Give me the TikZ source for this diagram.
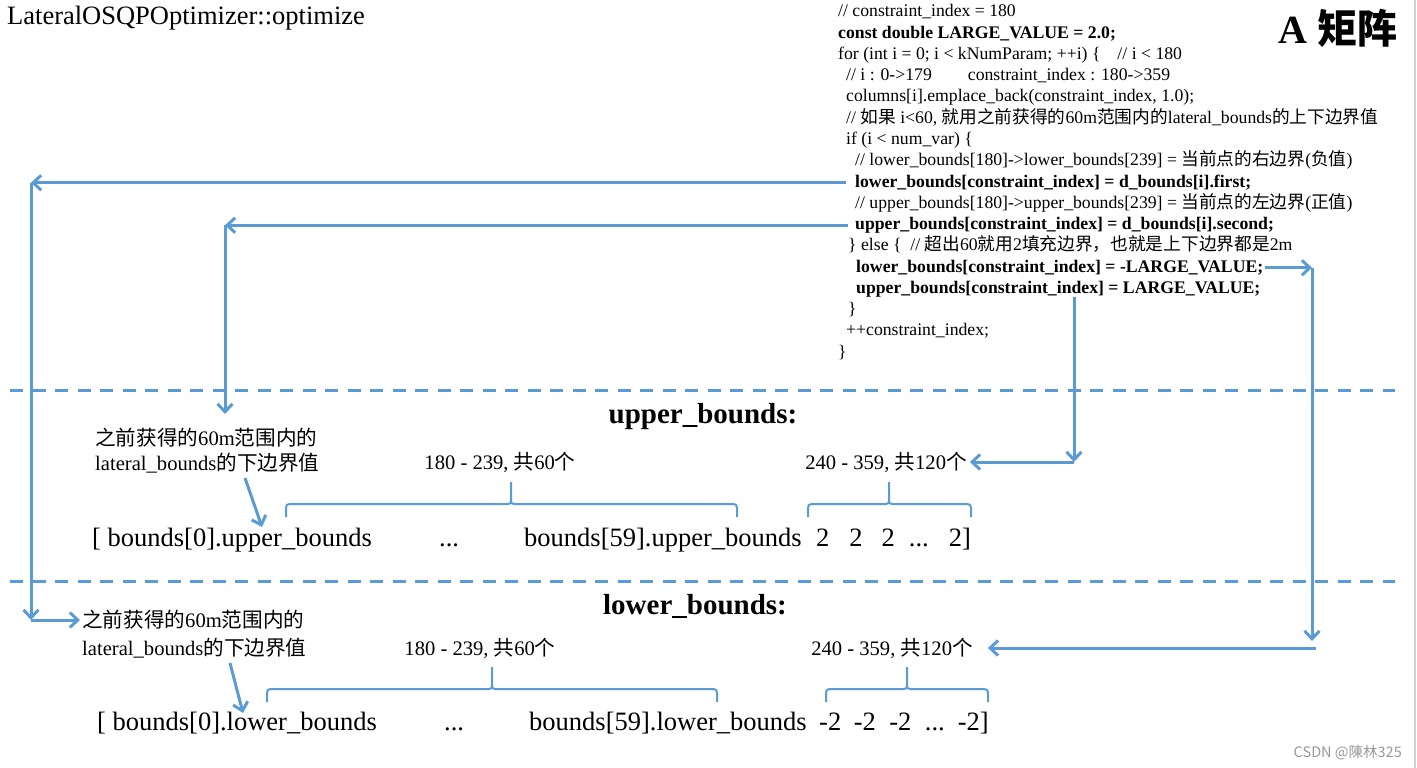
\documentclass[tikz,border=0pt]{standalone}
\usepackage{fontspec}
\setmainfont{Liberation Serif}
\newfontfamily\zhfont{Noto Sans CJK SC}
\newcommand{\zh}[1]{{\zhfont #1}}
\usepackage{tikz}
\usetikzlibrary{positioning, arrows.meta}
\definecolor{lineblue}{HTML}{5B9BD5}

\tikzset{
  code/.style={anchor=base west, inner sep=0pt, text height=12.5pt, text depth=4pt,
    font=\fontsize{17.7}{21}\selectfont},
  codeb/.style={code, font=\fontsize{17.7}{21}\selectfont\bfseries},
  note/.style={anchor=base west, inner sep=2pt, text height=14pt, text depth=0pt,
    font=\fontsize{20.6}{24}\selectfont},
  rng/.style={anchor=base, inner sep=3pt, text height=14pt, text depth=0pt,
    font=\fontsize{20.6}{24}\selectfont},
  row/.style={anchor=base west, inner sep=0pt, font=\fontsize{26.5}{30}\selectfont},
  head/.style={anchor=base, inner sep=0pt, font=\fontsize{29}{33}\selectfont\bfseries},
  arr/.style={draw=lineblue, line width=3pt, -{Straight Barb[length=8pt,width=15pt]}},
  brc/.style={draw=lineblue, line width=2pt},
  sep/.style={draw=lineblue, line width=3pt, dash pattern=on 13pt off 9.5pt},
}

% range brace: left x, right x, tip x, foot y
\newcommand{\rangebrace}[4]{%
  \draw[brc] (#1,#4) -- (#1,#4-9) .. controls (#1,#4-12) and (#1+1,#4-13) .. (#1+4,#4-13)
    -- (#3-3,#4-13) .. controls (#3-1,#4-13) and (#3,#4-14) .. (#3,#4-16) -- (#3,#4-35);
  \draw[brc] (#2,#4) -- (#2,#4-9) .. controls (#2,#4-12) and (#2-1,#4-13) .. (#2-4,#4-13)
    -- (#3+3,#4-13) .. controls (#3+1,#4-13) and (#3,#4-14) .. (#3,#4-16);
}

\begin{document}
\begin{tikzpicture}[x=1pt, y=-1pt]
\useasboundingbox (0,0) rectangle (1417,768);
\draw[black!18, line width=1.2pt] (1415,0) -- (1415,768);

% title and code
\node[row, font=\fontsize{26.5}{30}\selectfont] (ttl) at (7,25) {LateralOSQPOptimizer::optimize};
\node[anchor=base west, inner sep=0pt, font=\fontsize{40}{44}\selectfont\bfseries] (amat) at (1278,44) {A \zh{矩阵}};

\node[code]  (c1)  at (838,17)     {// constraint\_index = 180};
\node[codeb] (c2)  at (838,38.25)  {const double LARGE\_VALUE = 2.0;};
\node[code]  (c3)  at (838,59.5)   {for (int i = 0; i < kNumParam; ++i) \{\hspace{17pt}// i < 180};
\node[code]  (c4)  at (846,80.75)  {// i : 0->179\hspace{36pt}constraint\_index : 180->359};
\node[code]  (c5)  at (846,102)    {columns[i].emplace\_back(constraint\_index, 1.0);};
\node[code]  (c6)  at (846,123.25) {// \zh{如果} i<60, \zh{就用之前获得的}60m\zh{范围内的}lateral\_bounds\zh{的上下边界值}};
\node[code]  (c7)  at (846,144.5)  {if (i < num\_var) \{};
\node[code]  (c8)  at (855,165.75) {// lower\_bounds[180]->lower\_bounds[239] = \zh{当前点的右边界}(\zh{负值})};
\node[codeb] (c9)  at (855,187)    {lower\_bounds[constraint\_index] = d\_bounds[i].first;};
\node[code]  (c10) at (855,208.25) {// upper\_bounds[180]->upper\_bounds[239] = \zh{当前点的左边界}(\zh{正值})};
\node[codeb] (c11) at (855,229.5)  {upper\_bounds[constraint\_index] = d\_bounds[i].second;};
\node[code]  (c12) at (848,250.75) {\} else \{\ \ // \zh{超出}60\zh{就用}2\zh{填充边界，也就是上下边界都是}2m};
\node[codeb] (c13) at (856,272)    {lower\_bounds[constraint\_index] = -LARGE\_VALUE;};
\node[codeb] (c14) at (856,293.25) {upper\_bounds[constraint\_index] = LARGE\_VALUE;};
\node[code]  (c15) at (848,314.5)  {\}};
\node[code]  (c16) at (846,335.75) {++constraint\_index;};
\node[code]  (c17) at (838,357)    {\}};

% separators
\draw[sep] (10,390) -- (1395,390);
\draw[sep] (10,581) -- (1395,581);

% upper_bounds
\node[head] (hup) at (703,423) {upper\_bounds:};
\node[note] (lbl1a) at (93,445) {\zh{之前获得的}60m\zh{范围内的}};
\node[note] (lbl1b) at (93,470) {lateral\_bounds\zh{的下边界值}};
\node[rng] (rng1a) at (500,469) {180 - 239, \zh{共}60\zh{个}};
\node[rng] (rng1b) at (886,469) {240 - 359, \zh{共}120\zh{个}};
\rangebrace{286}{737}{511}{517}
\rangebrace{808}{971}{889}{517}
\node[row] (r1a) at (92,546)  {[ bounds[0].upper\_bounds};
\node[row] (r1b) at (439,546) {...};
\node[row] (r1c) at (524,546) {bounds[59].upper\_bounds};
\node[row] (r1d) at (816,546) {2\hspace{20pt}2\hspace{19pt}2\hspace{14pt}...\hspace{20pt}2]};

% lower_bounds
\node[head] (hlo) at (695,614) {lower\_bounds:};
\node[note] (lbl2a) at (80,627) {\zh{之前获得的}60m\zh{范围内的}};
\node[note] (lbl2b) at (80,655) {lateral\_bounds\zh{的下边界值}};
\node[rng] (rng2a) at (480,655) {180 - 239, \zh{共}60\zh{个}};
\node[rng] (rng2b) at (892,655) {240 - 359, \zh{共}120\zh{个}};
\rangebrace{267}{717}{492}{702}
\rangebrace{826}{988}{907}{702}
\node[row] (r2a) at (97,730)  {[ bounds[0].lower\_bounds};
\node[row] (r2b) at (444,730) {...};
\node[row] (r2c) at (529,730) {bounds[59].lower\_bounds};
\node[row] (r2d) at (819,730) {-2\hspace{12.5pt}-2\hspace{13.5pt}-2\hspace{13.5pt}...\hspace{13pt}-2]};

\node[anchor=base east, inner sep=0pt, text=black!40, font=\zhfont\fontsize{14.5}{16}\selectfont] (wm) at (1402,757) {CSDN @陳林325};

% connectors
\coordinate (colA) at (31,0);
\coordinate (colB) at (225,0);
\coordinate (colC) at (1312,0);
\coordinate (colD) at (1074,0);
\coordinate (fromC) at (1316,0);
\coordinate (tipB) at (225,414);
\coordinate (tipC) at (1312,641);
\coordinate (dg1s) at (245,478);
\coordinate (dg1e) at (262,527);
\coordinate (dg2s) at (230,663);
\coordinate (dg2e) at (243,713);

\draw[arr] ([xshift=-9pt]c9.west) -- (c9.west -| colA);
\draw[arr] (c9.west -| colA) -- (lbl2a.west -| colA);
\draw[arr] (lbl2a.west -| colA) -- (lbl2a.west);
\draw[arr] ([xshift=-7pt]c11.west) -- (c11.west -| colB);
\draw[arr] (c11.west -| colB) -- (tipB);
\draw[arr] ([xshift=2pt]c13.east) -- (c13.east -| colC);
\draw[arr] (c13.east -| colC) -- (tipC);
\draw[arr] (rng2b.east -| fromC) -- ([xshift=12pt]rng2b.east);
\draw[arr] (c14.south -| colD) -- (rng1b.east -| colD);
\draw[arr] (rng1b.east -| colD) -- (rng1b.east);
\draw[arr] (dg1s) -- (dg1e);
\draw[arr] (dg2s) -- (dg2e);
\end{tikzpicture}
\end{document}
